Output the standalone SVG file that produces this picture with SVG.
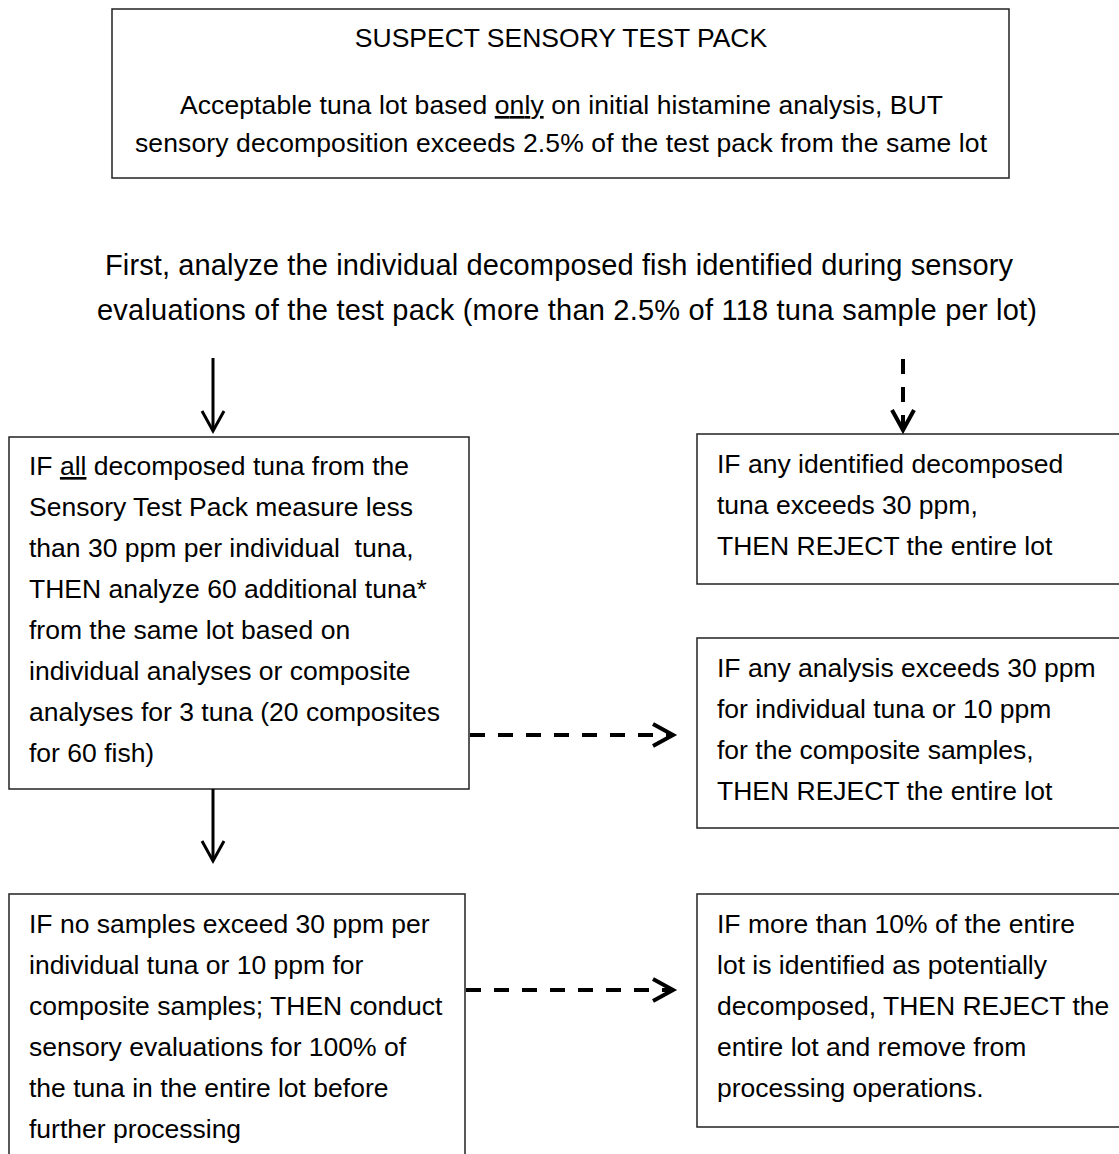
<svg xmlns="http://www.w3.org/2000/svg" width="1119" height="1154" viewBox="0 0 1119 1154">
  <style>
    .box { fill: #fff; stroke: #222; stroke-width: 1.5; }
    .txt { font-family: "Liberation Sans", Arial, sans-serif; font-size: 26.5px; fill: #000; }
    .lead { font-family: "Liberation Sans", Arial, sans-serif; font-size: 29px; fill: #000; }
    .solid { stroke: #000; stroke-width: 3; fill: none; }
    .dash { stroke: #000; stroke-width: 4; fill: none; stroke-dasharray: 15 13; }
    .u { text-decoration: underline; }
  </style>
  <defs>
    <marker id="vee" markerUnits="userSpaceOnUse" orient="auto" overflow="visible"
            viewBox="-30 -15 35 30" markerWidth="35" markerHeight="30" refX="0" refY="0">
      <path d="M-20,-11 L0,0 L-20,11" fill="none" stroke="#000" stroke-width="3"/>
    </marker>
    <marker id="vee-bold" markerUnits="userSpaceOnUse" orient="auto" overflow="visible"
            viewBox="-30 -15 35 30" markerWidth="35" markerHeight="30" refX="0" refY="0">
      <path d="M-20,-11 L0,0 L-20,11" fill="none" stroke="#000" stroke-width="4"/>
    </marker>
  </defs>
  <rect width="1119" height="1154" fill="#fff"/>

  <!-- heading box -->
  <g id="test-pack">
    <rect class="box" x="112" y="9" width="897" height="169"/>
    <text class="txt" x="561" y="47" text-anchor="middle">SUSPECT SENSORY TEST PACK</text>
    <text class="txt" x="180" y="114" textLength="763">Acceptable tuna lot based <tspan class="u">only</tspan> on initial histamine analysis, BUT</text>
    <text class="txt" x="135" y="152" textLength="852">sensory decomposition exceeds 2.5% of the test pack from the same lot</text>
  </g>

  <!-- lead instruction -->
  <g id="first-step">
    <text class="lead" x="105" y="275" textLength="908">First, analyze the individual decomposed fish identified during sensory</text>
    <text class="lead" x="97" y="320" textLength="940">evaluations of the test pack (more than 2.5% of 118 tuna sample per lot)</text>
  </g>

  <!-- left column -->
  <g id="all-below-30">
    <rect class="box" x="9" y="437" width="460" height="352"/>
    <text class="txt" x="29" y="475" xml:space="preserve">IF <tspan class="u">all</tspan> decomposed tuna from the</text>
    <text class="txt" x="29" y="516">Sensory Test Pack measure less</text>
    <text class="txt" x="29" y="557" xml:space="preserve">than 30 ppm per individual  tuna,</text>
    <text class="txt" x="29" y="598">THEN analyze 60 additional tuna*</text>
    <text class="txt" x="29" y="639">from the same lot based on</text>
    <text class="txt" x="29" y="680">individual analyses or composite</text>
    <text class="txt" x="29" y="721">analyses for 3 tuna (20 composites</text>
    <text class="txt" x="29" y="762">for 60 fish)</text>
  </g>

  <g id="no-samples-exceed">
    <rect class="box" x="9" y="894" width="456" height="280"/>
    <text class="txt" x="29" y="933">IF no samples exceed 30 ppm per</text>
    <text class="txt" x="29" y="974">individual tuna or 10 ppm for</text>
    <text class="txt" x="29" y="1015">composite samples; THEN conduct</text>
    <text class="txt" x="29" y="1056">sensory evaluations for 100% of</text>
    <text class="txt" x="29" y="1097">the tuna in the entire lot before</text>
    <text class="txt" x="29" y="1138">further processing</text>
  </g>

  <!-- right column -->
  <g id="reject-decomposed">
    <rect class="box" x="697" y="434" width="440" height="150"/>
    <text class="txt" x="717" y="473">IF any identified decomposed</text>
    <text class="txt" x="717" y="514">tuna exceeds 30 ppm,</text>
    <text class="txt" x="717" y="555">THEN REJECT the entire lot</text>
  </g>

  <g id="reject-analysis">
    <rect class="box" x="697" y="638" width="440" height="190"/>
    <text class="txt" x="717" y="677">IF any analysis exceeds 30 ppm</text>
    <text class="txt" x="717" y="718">for individual tuna or 10 ppm</text>
    <text class="txt" x="717" y="759">for the composite samples,</text>
    <text class="txt" x="717" y="800">THEN REJECT the entire lot</text>
  </g>

  <g id="reject-ten-percent">
    <rect class="box" x="697" y="894" width="440" height="233"/>
    <text class="txt" x="717" y="933">IF more than 10% of the entire</text>
    <text class="txt" x="717" y="974">lot is identified as potentially</text>
    <text class="txt" x="717" y="1015">decomposed, THEN REJECT the</text>
    <text class="txt" x="717" y="1056">entire lot and remove from</text>
    <text class="txt" x="717" y="1097">processing operations.</text>
  </g>

  <!-- connectors -->
  <g id="connectors">
    <line class="solid" x1="213" y1="358" x2="213" y2="431" marker-end="url(#vee)"/>
    <line class="dash" x1="903" y1="359" x2="903" y2="430" marker-end="url(#vee-bold)"/>
    <line class="dash" x1="470" y1="735" x2="673" y2="735" marker-end="url(#vee-bold)"/>
    <line class="solid" x1="213" y1="789" x2="213" y2="861" marker-end="url(#vee)"/>
    <line class="dash" x1="466" y1="990" x2="673" y2="990" marker-end="url(#vee-bold)"/>
  </g>
</svg>
